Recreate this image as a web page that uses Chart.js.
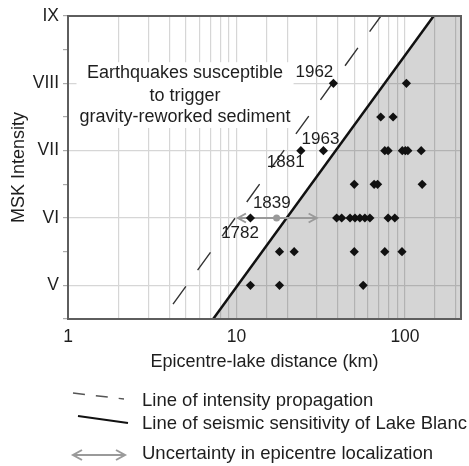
<!DOCTYPE html>
<html><head><meta charset="utf-8">
<script src="https://cdn.jsdelivr.net/npm/chart.js@4"></script>
<style>html,body{margin:0;padding:0;background:#fff;overflow:hidden}#wrap{width:469px;height:466px;position:relative}</style>
</head><body><div id="wrap"><canvas id="c" width="469" height="466"></canvas></div>
<script>
const FONT = "'Liberation Sans', Arial, Helvetica, sans-serif";
const TEXT = '#1e1e1e';

// ---- data ----
const romanLabels = {5: 'V', 6: 'VI', 7: 'VII', 8: 'VIII', 9: 'IX'};
const xTickLabels = [1, 10, 100];
const xRange = [1, 215];
const yRange = [4.5, 9];

// black diamonds: epicentre-lake distance (km) and MSK intensity
const eqDistance  = [37.6, 102,
                     71.8, 85,
                     24.1, 32.8, 75.9, 79.4, 96.4, 100.5, 104, 124.8,
                     50, 65.6, 68.8, 126.5,
                     12.1, 39.3, 42.1, 47.2, 50.5, 54.0, 57.8, 61.9, 79.4, 87.0,
                     18.0, 22.0, 50, 75.9, 96,
                     12.1, 18.0, 56.5];
const eqIntensity = [8, 8,
                     7.5, 7.5,
                     7, 7, 7, 7, 7, 7, 7, 7,
                     6.5, 6.5, 6.5, 6.5,
                     6, 6, 6, 6, 6, 6, 6, 6, 6, 6,
                     5.5, 5.5, 5.5, 5.5, 5.5,
                     5, 5, 5];

// uncertain epicentre (grey)
const uncertainDistance = [17.3];
const uncertainIntensity = [6];
const arrowDistance = [10.2, 29.9];
const arrowIntensity = [6, 6];

// lines
const sensitivityDistance = [7.27, 148];
const sensitivityIntensity = [4.5, 9];
const propagationDistance = [4.2, 72];
const propagationIntensity = [4.72, 9];

// annotations
const yearLabels = ['1962', '1963', '1881', '1839', '1782'];
const yearDistance = [29.0, 31.5, 19.6, 16.2, 10.5];
const yearIntensity = [8.17, 7.17, 6.82, 6.22, 5.78];
const noteLines = ['Earthquakes susceptible', 'to trigger', 'gravity-reworked sediment'];
const noteDistance = [4.95, 4.95, 4.95];
const noteIntensity = [8.15, 7.81, 7.50];

const legendLabels = ['Line of intensity propagation',
                      'Line of seismic sensitivity of Lake Blanc',
                      'Uncertainty in epicentre localization'];

const pts = (xs, ys) => xs.map((x, i) => ({x: x, y: ys[i]}));

function arrowHead(ctx, x, y, dir, len, half) {
  ctx.beginPath();
  ctx.moveTo(x - dir * len, y - half);
  ctx.lineTo(x, y);
  ctx.lineTo(x - dir * len, y + half);
  ctx.stroke();
}

const decor = {
  id: 'decor',
  afterDatasetsDraw(chart) {
    const {ctx, chartArea: a, scales: {x, y}} = chart;
    ctx.save();
    // uncertainty arrow heads
    ctx.strokeStyle = '#9a9a9a';
    ctx.lineWidth = 2;
    const ax0 = x.getPixelForValue(arrowDistance[0]), ax1 = x.getPixelForValue(arrowDistance[1]);
    const ay = y.getPixelForValue(arrowIntensity[0]);
    arrowHead(ctx, ax0, ay, -1, 8, 4.5);
    arrowHead(ctx, ax1, ay, 1, 8, 4.5);

    // note block with white background
    ctx.font = '18px ' + FONT;
    ctx.textAlign = 'center';
    ctx.textBaseline = 'middle';
    let w = 0;
    noteLines.forEach(t => { w = Math.max(w, ctx.measureText(t).width); });
    const nx = x.getPixelForValue(noteDistance[0]);
    const ny0 = y.getPixelForValue(noteIntensity[0]);
    const ny1 = y.getPixelForValue(noteIntensity[noteLines.length - 1]);
    ctx.fillStyle = '#fff';
    ctx.fillRect(nx - w / 2 - 3, ny0 - 11, w + 6, ny1 - ny0 + 22);
    ctx.fillStyle = TEXT;
    noteLines.forEach((t, i) => {
      ctx.fillText(t, x.getPixelForValue(noteDistance[i]), y.getPixelForValue(noteIntensity[i]));
    });

    // year labels
    ctx.font = '17px ' + FONT;
    yearLabels.forEach((t, i) => {
      ctx.fillText(t, x.getPixelForValue(yearDistance[i]), y.getPixelForValue(yearIntensity[i]));
    });

    // frame
    ctx.strokeStyle = '#5e5e5e';
    ctx.lineWidth = 2;
    ctx.strokeRect(a.left, a.top, a.right - a.left, a.bottom - a.top);
    ctx.restore();
  },
  afterDraw(chart) {
    const {ctx, chartArea: a} = chart;
    ctx.save();
    const lx = a.left;
    // item 1: dashed
    ctx.strokeStyle = '#555';
    ctx.lineWidth = 1.5;
    ctx.setLineDash([12, 11]);
    ctx.beginPath(); ctx.moveTo(lx + 5, a.bottom + 74); ctx.lineTo(lx + 56, a.bottom + 80); ctx.stroke();
    ctx.setLineDash([]);
    // item 2: solid
    ctx.strokeStyle = '#111';
    ctx.lineWidth = 2.2;
    ctx.beginPath(); ctx.moveTo(lx + 10, a.bottom + 97); ctx.lineTo(lx + 60, a.bottom + 104); ctx.stroke();
    // item 3: grey double arrow
    ctx.strokeStyle = '#9a9a9a';
    ctx.lineWidth = 2;
    const ay = a.bottom + 136;
    ctx.beginPath(); ctx.moveTo(lx + 5, ay); ctx.lineTo(lx + 57, ay); ctx.stroke();
    arrowHead(ctx, lx + 5, ay, -1, 9, 5);
    arrowHead(ctx, lx + 57, ay, 1, 9, 5);
    // texts
    ctx.fillStyle = TEXT;
    ctx.font = '18.5px ' + FONT;
    ctx.textAlign = 'left';
    ctx.textBaseline = 'alphabetic';
    const tx = lx + 74;
    ctx.fillText(legendLabels[0], tx, a.bottom + 87);
    ctx.fillText(legendLabels[1], tx, a.bottom + 110);
    ctx.fillText(legendLabels[2], tx, a.bottom + 140);
    ctx.restore();
  }
};

new Chart(document.getElementById('c'), {
  type: 'scatter',
  data: {
    datasets: [
      {
        data: pts(eqDistance, eqIntensity),
        pointStyle: 'rectRot', pointRadius: 4.6, pointHoverRadius: 4.6,
        backgroundColor: '#111', borderColor: '#111', borderWidth: 0
      },
      {
        data: pts(uncertainDistance, uncertainIntensity),
        pointStyle: 'circle', pointRadius: 3.5,
        backgroundColor: '#9a9a9a', borderColor: '#9a9a9a', borderWidth: 0
      },
      {
        data: pts(arrowDistance, arrowIntensity),
        showLine: true, pointRadius: 0, borderColor: '#9a9a9a', borderWidth: 2
      },
      {
        data: pts(sensitivityDistance, sensitivityIntensity),
        showLine: true, pointRadius: 0, borderColor: '#111', borderWidth: 2.5
      },
      {
        data: pts(propagationDistance, propagationIntensity),
        showLine: true, pointRadius: 0, borderColor: '#333', borderWidth: 1.4,
        borderDash: [22, 20]
      },
      {
        data: pts(sensitivityDistance.concat([xRange[1]]), sensitivityIntensity.concat([yRange[1]])),
        showLine: true, pointRadius: 0, borderWidth: 0, borderColor: 'rgba(0,0,0,0)',
        fill: 'start', backgroundColor: 'rgba(0,0,0,0.165)'
      }
    ]
  },
  options: {
    responsive: false,
    animation: false,
    devicePixelRatio: 1,
    events: [],
    layout: {padding: {top: 16, right: 6, bottom: 93, left: 0}},
    plugins: {legend: {display: false}, tooltip: {enabled: false}},
    scales: {
      x: {
        type: 'logarithmic',
        min: xRange[0], max: xRange[1],
        afterFit(s) { s.height = 54; },
        border: {display: false},
        grid: {color: '#d6d6d6', lineWidth: 1.2, drawTicks: false},
        ticks: {
          autoSkip: false, maxRotation: 0, padding: 8, color: TEXT,
          font: {family: FONT, size: 17.5},
          callback: (v) => xTickLabels.includes(v) ? String(v) : ''
        },
        title: {display: true, text: 'Epicentre-lake distance (km)', color: TEXT,
                font: {family: FONT, size: 18}, padding: {top: 0, bottom: 0}}
      },
      y: {
        type: 'linear',
        min: yRange[0], max: yRange[1],
        afterFit(s) { s.width = 68; },
        border: {display: false},
        grid: {
          color: (c) => Number.isInteger(c.tick.value) ? '#d6d6d6' : 'rgba(0,0,0,0)',
          tickColor: '#aaa', tickLength: 5, lineWidth: 1.2
        },
        ticks: {
          stepSize: 0.5, autoSkip: false, padding: 4, color: TEXT,
          font: {family: FONT, size: 17.5},
          callback: (v) => romanLabels[v] || ''
        },
        title: {display: true, text: 'MSK Intensity', color: TEXT,
                font: {family: FONT, size: 18}, padding: {top: 8, bottom: 0}}
      }
    }
  },
  plugins: [decor]
});
</script></body></html>
